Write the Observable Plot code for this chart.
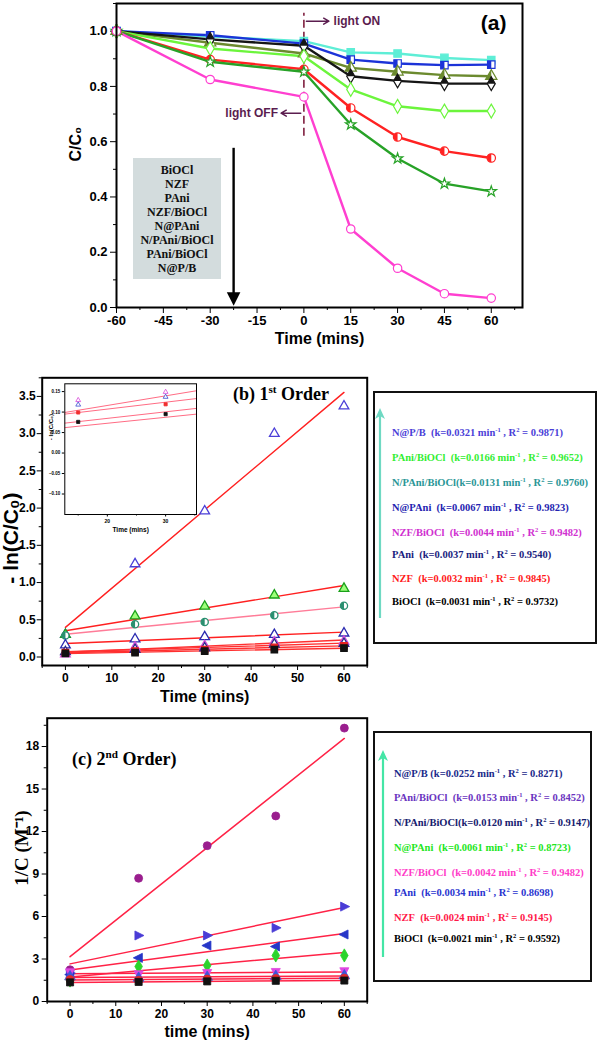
<!DOCTYPE html>
<html><head><meta charset="utf-8">
<script src="https://cdn.jsdelivr.net/npm/d3@7"></script>
<script src="https://cdn.jsdelivr.net/npm/@observablehq/plot@0.6"></script>
<style>
body{margin:0;background:#fff;}
#root{position:relative;width:600px;height:1041px;overflow:hidden;font-family:"Liberation Sans",Arial,sans-serif;}
sup{font-size:0.62em;vertical-align:super;line-height:0;}
.lg{position:absolute;white-space:nowrap;font-family:"Liberation Serif","Times New Roman",serif;font-weight:bold;line-height:14px;}
</style></head><body><div id="root"></div>
<script>
// ---------- DATA ----------
// panel (a): C/C0 vs time
const samples = ["BiOCl","NZF","PAni","NZF/BiOCl","N@PAni","N/PAni/BiOCl","PAni/BiOCl","N@P/B"];
const timeA = [-60,-30,0,15,30,45,60];
const ccBiOCl      = [1.0,0.980,0.964,0.923,0.919,0.903,0.895];
const ccNZF        = [1.0,0.985,0.955,0.897,0.883,0.877,0.879];
const ccPAni       = [1.0,0.958,0.919,0.867,0.853,0.841,0.837];
const ccNZFBiOCl   = [1.0,0.970,0.947,0.837,0.820,0.810,0.810];
const ccNPAni      = [1.0,0.937,0.909,0.789,0.728,0.711,0.711];
const ccNPAniBiOCl = [1.0,0.897,0.862,0.722,0.617,0.566,0.541];
const ccPAniBiOCl  = [1.0,0.889,0.853,0.662,0.539,0.448,0.420];
const ccNPB        = [1.0,0.825,0.762,0.284,0.142,0.050,0.034];
const colorsA = ["#5eeed6","#1c33d8","#6b8a2e","#151515","#6cf53c","#ff2222","#27a227","#ff3fd0"];
const lightSwitchTime = [0];
const lightRuleSpan = [0.62, 1.065];

// panel (b): -ln(C/C0) vs time (first order)
const kinNames = ["N@P/B","PAni/BiOCl","N/PAni/BiOCl","N@PAni","NZF/BiOCl","PAni","NZF","BiOCl"];
const timeK = [0,15,30,45,60];
const lnNPB        = [0.30,1.25,1.96,3.00,3.37];
const lnPAniBiOCl  = [0.30,0.55,0.68,0.83,0.92];
const lnNPAniBiOCl = [0.29,0.44,0.47,0.56,0.69];
const lnNPAni      = [0.16,0.24,0.27,0.30,0.32];
const lnNZFBiOCl   = [0.04,0.13,0.15,0.20,0.21];
const lnPAni       = [0.07,0.10,0.12,0.17,0.18];
const lnNZF        = [0.06,0.08,0.10,0.13,0.15];
const lnBiOCl      = [0.05,0.06,0.08,0.10,0.12];
const kFirst  = ["0.0321","0.0166","0.0131","0.0067","0.0044","0.0037","0.0032","0.0031"];
const r2First = ["0.9871","0.9652","0.9760","0.9823","0.9482","0.9540","0.9845","0.9732"];
const markerColorB = ["#4b3fd8","#1aa01a","#2a8f70","#2a2ab0","#d848d8","#24248a","#e82020","#111111"];
const fitColorB    = ["#ff2020","#ff2020","#ff7c98","#ff2020","#ff3030","#ff3030","#ff3030","#ff3030"];
const legendColorB = ["#4b3fd8","#33ee33","#2a9696","#2424b0","#d030d0","#1a237e","#ff1a1a","#000000"];

// inset of (b)
const insetTime = [15,30];
const insetNames = ["NZF/BiOCl","PAni","NZF","BiOCl"];
const insetValues = [[0.129,0.149],[0.118,0.137],[0.099,0.119],[0.076,0.095]];
const insetColors = ["#d848d8","#3a4ad0","#f03030","#111111"];
const insetFitTime = [12.7,35.3];
const insetFitStart = [0.099,0.095,0.073,0.062];
const insetFitEnd   = [0.152,0.133,0.109,0.095];

// panel (c): 1/C vs time (second order)
const invNPB        = [2.24,8.70,11.0,13.1,19.3];
const invPAniBiOCl  = [2.00,4.66,4.66,5.20,6.70];
const invNPAniBiOCl = [1.90,3.08,3.95,3.88,4.73];
const invNPAni      = [1.48,2.47,2.54,3.25,3.25];
const invNZFBiOCl   = [2.05,1.90,2.00,2.07,2.12];
const invPAni       = [1.75,1.65,1.72,1.78,1.82];
const invNZF        = [1.55,1.50,1.58,1.62,1.65];
const invBiOCl      = [1.35,1.38,1.42,1.46,1.48];
const kSecond  = ["0.0252","0.0153","0.0120","0.0061","0.0042","0.0034","0.0024","0.0021"];
const r2Second = ["0.8271","0.8452","0.9147","0.8723","0.9482","0.8698","0.9145","0.9592"];
const markerColorC = ["#9a1e8e","#4a3cd6","#2636c8","#2bd42b","#e048e0","#3a56d8","#e02828","#111111"];
const legendColorC = ["#1a2a8a","#6a35c0","#16206e","#22e622","#ff3cc8","#2a36d0","#ff1848","#000000"];
const fitColorC = "#ff2246";

// ---------- SYMBOLS ----------
const halfSquare = {draw(c,s){const h=Math.sqrt(s)/2;c.moveTo(-h,-h);c.lineTo(0,-h);c.lineTo(0,h);c.lineTo(-h,h);c.closePath();}};
const halfCircle = {draw(c,s){const r=Math.sqrt(s/Math.PI);c.moveTo(0,-r);c.arc(0,0,r,-Math.PI/2,Math.PI/2,true);c.closePath();}};
const halfTriangle = {draw(c,s){const y=-Math.sqrt(s/(Math.sqrt(3)*3));c.moveTo(0,2*y);c.lineTo(Math.sqrt(3)*y,-y);c.lineTo(0,-y);c.closePath();}};
const halfDiamond = {draw(c,s){const y=Math.sqrt(s/(2*Math.tan(Math.PI/6))),x=y*Math.tan(Math.PI/6);c.moveTo(0,-y);c.lineTo(x,0);c.lineTo(-x,0);c.closePath();}};
const triRight = {draw(c,s){const a=Math.sqrt(s)*0.75;c.moveTo(a,0);c.lineTo(-a*0.7,-a*0.85);c.lineTo(-a*0.7,a*0.85);c.closePath();}};
const triLeft  = {draw(c,s){const a=Math.sqrt(s)*0.75;c.moveTo(-a,0);c.lineTo(a*0.7,-a*0.85);c.lineTo(a*0.7,a*0.85);c.closePath();}};
const triDown  = {draw(c,s){const a=Math.sqrt(s)*0.75;c.moveTo(0,a);c.lineTo(-a*0.85,-a*0.7);c.lineTo(a*0.85,-a*0.7);c.closePath();}};

const root = document.getElementById("root");
function place(el,left,top){el.style.position="absolute";el.style.left=left+"px";el.style.top=top+"px";root.appendChild(el);return el;}
const baseStyle = {fontFamily:"'Liberation Sans', Arial, sans-serif", fontWeight:"bold", color:"#000", background:"transparent", overflow:"visible"};

// ---------- PANEL A ----------
const seriesA = [ccBiOCl,ccNZF,ccPAni,ccNZFBiOCl,ccNPAni,ccNPAniBiOCl,ccPAniBiOCl,ccNPB];
const symA  = [d3.symbolSquare,d3.symbolSquare,d3.symbolTriangle,d3.symbolDiamond,d3.symbolDiamond,d3.symbolCircle,d3.symbolStar,d3.symbolCircle];
const fillA = ["#5eeed6","#ffffff","#ffffff","#ffffff","#ffffff","#ffffff","#ffffff","#ffffff"];
const halfA = [null,halfSquare,halfTriangle,halfDiamond,null,halfCircle,null,null];
const rA    = [4.2,4.2,4.2,4.2,4.2,4.2,3.3,4.2];
const marksA = [];
seriesA.forEach((vals,i)=>{
  const rows = timeA.map((t,j)=>({t,v:vals[j]}));
  marksA.push(Plot.line(rows,{x:"t",y:"v",stroke:colorsA[i],strokeWidth:2.4}));
});
seriesA.forEach((vals,i)=>{
  const rows = timeA.map((t,j)=>({t,v:vals[j]}));
  marksA.push(Plot.dot(rows,{x:"t",y:"v",symbol:symA[i],r:rA[i],fill:fillA[i],stroke:colorsA[i],strokeWidth:1.2}));
  if(halfA[i]) marksA.push(Plot.dot(rows,{x:"t",y:"v",symbol:halfA[i],r:rA[i],fill:colorsA[i]}));
});
const plotA = Plot.plot({
  width:600,height:350,marginLeft:116,marginRight:78,marginTop:3,marginBottom:43,
  x:{domain:[-60,70]}, y:{domain:[0,1.1]},
  style:{...baseStyle,fontSize:"13px"},
  marks:[
    Plot.axisX({ticks:d3.range(-60,61,15),tickSize:6,tickPadding:2,tickFormat:d=>String(d),label:null,fontSize:13}),
    Plot.axisX({ticks:d3.range(-52.5,70,15),tickSize:3,tickFormat:()=>"",label:null}),
    Plot.axisY({ticks:d3.range(0,1.01,0.2),tickSize:6,tickPadding:3,tickFormat:d3.format(".1f"),label:null,fontSize:13}),
    Plot.axisY({ticks:d3.range(0.1,1.11,0.2),tickSize:3,tickFormat:()=>"",label:null}),
    Plot.ruleX(lightSwitchTime,{y1:lightRuleSpan[0],y2:lightRuleSpan[1],stroke:"#7f1f3f",strokeWidth:1.6,strokeDasharray:"8,4"}),
    Plot.arrow([{a:0.8,b:8}],{x1:"a",x2:"b",y1:1.036,y2:1.036,stroke:"#5b1d4f",strokeWidth:1.5,headLength:6}),
    Plot.text(["light ON"],{x:9.5,y:1.036,textAnchor:"start",fill:"#5b1d4f",fontSize:12}),
    Plot.arrow([{a:-1,b:-7.3}],{x1:"a",x2:"b",y1:0.703,y2:0.703,stroke:"#5b1d4f",strokeWidth:1.5,headLength:6}),
    Plot.text(["light OFF"],{x:-8.3,y:0.703,textAnchor:"end",fill:"#5b1d4f",fontSize:12}),
    Plot.ruleX([-22.5],{y1:0.05,y2:0.576,stroke:"#000",strokeWidth:2.4}),
    Plot.dot([-22.5],{x:d=>d,y:0.035,symbol:triDown,r:6,fill:"#000"}),
    ...marksA,
    Plot.frame({stroke:"#000",strokeWidth:2}),
    Plot.text(["(a)"],{frameAnchor:"top-right",lineAnchor:"middle",dx:-16,dy:20,textAnchor:"end",fontSize:21}),
    Plot.text(["Time (mins)"],{frameAnchor:"bottom",lineAnchor:"middle",dy:31,fontSize:16}),
    Plot.text(["C/C\u2080"],{frameAnchor:"left",lineAnchor:"middle",rotate:-90,dx:-41,dy:6,fontSize:16})
  ]
});
place(plotA,0,0);

// legend box in (a)
const boxA = document.createElement("div");
boxA.style.cssText="width:88px;height:121px;background:#d3dcdd;box-sizing:border-box;padding-top:5px;text-align:center;font:bold 12px/14px 'Liberation Serif',serif;color:#111;";
boxA.innerHTML = samples.join("<br>");
place(boxA,133,158);

// ---------- PANEL B ----------
const seriesB = [lnNPB,lnPAniBiOCl,lnNPAniBiOCl,lnNPAni,lnNZFBiOCl,lnPAni,lnNZF,lnBiOCl];
const symB  = [d3.symbolTriangle,d3.symbolTriangle,d3.symbolCircle,d3.symbolTriangle,d3.symbolTriangle,d3.symbolTriangle,d3.symbolSquare,d3.symbolSquare];
const fillB = ["#ffffff","#9dff7a","#ffffff","#ffffff","#ffffff","#ffffff","#e82020","#111111"];
const halfB = [null,null,halfCircle,null,null,null,null,null];
const fitsB=[],dotsB=[];
seriesB.forEach((vals,i)=>{
  const rows = timeK.map((t,j)=>({t,v:vals[j]}));
  fitsB.push(Plot.linearRegressionY(rows,{x:"t",y:"v",stroke:fitColorB[i],strokeWidth:1.4,ci:0}));
  dotsB.push(Plot.dot(rows,{x:"t",y:"v",symbol:symB[i],r:3.6,fill:fillB[i],stroke:markerColorB[i],strokeWidth:1.3}));
  if(halfB[i]) dotsB.push(Plot.dot(rows,{x:"t",y:"v",symbol:halfB[i],r:3.6,fill:markerColorB[i]}));
});
const plotB = Plot.plot({
  width:400,height:360,marginLeft:41.7,marginRight:33.3,marginTop:27.3,marginBottom:45,
  x:{domain:[-5,65]}, y:{domain:[-0.114,3.75]},
  style:{...baseStyle,fontSize:"12px"},
  marks:[
    Plot.axisX({ticks:d3.range(0,61,10),tickSize:5,tickPadding:3,label:null,fontSize:12}),
    Plot.axisX({ticks:d3.range(-5,66,10),tickSize:3,tickFormat:()=>"",label:null}),
    Plot.axisY({ticks:d3.range(0,3.51,0.5),tickSize:5,tickPadding:1.5,tickFormat:d3.format(".1f"),label:null,fontSize:12}),
    Plot.axisY({ticks:d3.range(0.25,3.76,0.5),tickSize:3,tickFormat:()=>"",label:null}),
    ...fitsB, ...dotsB,
    Plot.frame({stroke:"#000",strokeWidth:2}),
    Plot.text(["Time (mins)"],{frameAnchor:"bottom",lineAnchor:"middle",dy:31,fontSize:16}),
    Plot.text(["- ln(C/C\u2080)"],{frameAnchor:"left",lineAnchor:"middle",rotate:-90,dx:-31,dy:62,fontSize:21})
  ]
});
place(plotB,0,350);

// inset
const insetDots=[];
insetValues.forEach((vals,i)=>{
  const rows = insetTime.map((t,j)=>({t,v:vals[j]}));
  insetDots.push(Plot.dot(rows,{x:"t",y:"v",symbol:i<2?d3.symbolTriangle:d3.symbolSquare,r:1.8,fill:i<2?"#fff":insetColors[i],stroke:insetColors[i],strokeWidth:0.8}));
});
const insetFits = insetFitStart.map((s,i)=>({x1:insetFitTime[0],x2:insetFitTime[1],y1:s,y2:insetFitEnd[i]}));
const plotInset = Plot.plot({
  width:180,height:165,marginLeft:34.3,marginRight:14,marginTop:8.3,marginBottom:26,
  x:{domain:[12.7,35.3]}, y:{domain:[-0.15,0.169]},
  style:{...baseStyle,fontSize:"5px"},
  marks:[
    Plot.frame({fill:"#fff",stroke:"none"}),
    Plot.axisX({ticks:[20,30],tickSize:2.5,tickPadding:2,label:null,fontSize:5}),
    Plot.axisX({ticks:[15,25,35],tickSize:1.5,tickFormat:()=>"",label:null}),
    Plot.axisY({ticks:[-0.10,-0.05,0,0.05,0.10,0.15],tickSize:2.5,tickPadding:2,tickFormat:d3.format(".2f"),label:null,fontSize:4.5}),
    Plot.link(insetFits,{x1:"x1",x2:"x2",y1:"y1",y2:"y2",stroke:"#ff6c84",strokeWidth:1}),
    ...insetDots,
    Plot.frame({stroke:"#000",strokeWidth:1}),
    Plot.text(["Time (mins)"],{frameAnchor:"bottom",lineAnchor:"middle",dy:15,fontSize:6.5}),
    Plot.text(["- ln(C/C\u2080)"],{frameAnchor:"left",lineAnchor:"middle",rotate:-90,dx:-14,dy:-9,fontSize:6})
  ]
});
place(plotInset,30,375);

// ---------- PANEL C ----------
const seriesC = [invNPB,invPAniBiOCl,invNPAniBiOCl,invNPAni,invNZFBiOCl,invPAni,invNZF,invBiOCl];
const symC = [d3.symbolCircle,triRight,triLeft,d3.symbolDiamond,triDown,d3.symbolTriangle,d3.symbolCircle,d3.symbolSquare];
const fitsC=[],dotsC=[];
seriesC.forEach((vals,i)=>{
  const rows = timeK.map((t,j)=>({t,v:vals[j]}));
  fitsC.push(Plot.linearRegressionY(rows,{x:"t",y:"v",stroke:fitColorC,strokeWidth:1.5,ci:0}));
  dotsC.push(Plot.dot(rows,{x:"t",y:"v",symbol:symC[i],r:4,fill:markerColorC[i],stroke:markerColorC[i],strokeWidth:0.8}));
});
const plotC = Plot.plot({
  width:400,height:331,marginLeft:46.7,marginRight:33.3,marginTop:7.7,marginBottom:40,
  x:{domain:[-5,65]}, y:{domain:[0,20]},
  style:{...baseStyle,fontSize:"12px"},
  marks:[
    Plot.axisX({ticks:d3.range(0,61,10),tickSize:5,tickPadding:3,label:null,fontSize:12}),
    Plot.axisX({ticks:d3.range(-5,66,10),tickSize:3,tickFormat:()=>"",label:null}),
    Plot.axisY({ticks:d3.range(0,19,3),tickSize:5,tickPadding:3,label:null,fontSize:12}),
    Plot.axisY({ticks:d3.range(1.5,20,3),tickSize:3,tickFormat:()=>"",label:null}),
    ...fitsC, ...dotsC,
    Plot.frame({stroke:"#000",strokeWidth:2}),
    Plot.text(["time (mins)"],{frameAnchor:"bottom",lineAnchor:"middle",dy:30,fontSize:16}),
    Plot.text(["1/C (M\u207B\u00B9)"],{frameAnchor:"left",lineAnchor:"middle",rotate:-90,dx:-25,dy:26,fontSize:19,fontFamily:"'Liberation Serif',serif"})
  ]
});
place(plotC,0,710);

// titles
const tB=document.createElement("div");tB.className="lg";tB.style.fontSize="18px";tB.style.lineHeight="20px";tB.innerHTML="(b) 1<sup>st</sup> Order";place(tB,233,384);
const tC=document.createElement("div");tC.className="lg";tC.style.fontSize="18px";tC.style.lineHeight="20px";tC.innerHTML="(c) 2<sup>nd</sup> Order)";place(tC,72,749);

// ---------- LEGENDS ----------
function legend(cfg){
  const box=document.createElement("div");
  box.style.cssText=`width:${cfg.width}px;height:${cfg.height}px;border:2px solid #111;box-sizing:border-box;background:#fff;`;
  place(box,cfg.left,cfg.top);
  const ns="http://www.w3.org/2000/svg";
  const svg=document.createElementNS(ns,"svg");
  svg.setAttribute("width",20);svg.setAttribute("height",cfg.arrowBottom-cfg.arrowTop+2);
  svg.style.position="absolute";svg.style.left=(cfg.arrowX-10)+"px";svg.style.top=cfg.arrowTop+"px";
  svg.innerHTML=`<line x1="10" y1="8" x2="10" y2="${cfg.arrowBottom-cfg.arrowTop}" stroke="${cfg.arrowColor}" stroke-width="2.2"/><path d="M10,0 L5,11 L10,8 L15,11 Z" fill="${cfg.arrowColor}"/>`;
  root.appendChild(svg);
  cfg.names.forEach((n,i)=>{
    const d=document.createElement("div");d.className="lg";
    d.style.fontSize=cfg.fontSize+"px";d.style.color=cfg.colors[i];
    d.innerHTML=`${n}${cfg.gaps[i]}(k=${cfg.ks[i]} min<sup>-1</sup> , R<sup>2</sup> = ${cfg.r2s[i]})`;
    place(d,cfg.textLeft,cfg.ys[i]-7);
  });
}
legend({left:373,top:391,width:224,height:253,arrowX:380,arrowTop:408,arrowBottom:618,arrowColor:"#6fd9c3",
  names:kinNames,ks:kFirst,r2s:r2First,colors:legendColorB,fontSize:10.5,textLeft:392,
  gaps:["&nbsp; ","&nbsp; ","","&nbsp; ","&nbsp; ","&nbsp; ","&nbsp; ","&nbsp; "],
  ys:[433,458,483,508,533,555,579,602]});
legend({left:373,top:731,width:219,height:251,arrowX:383,arrowTop:750,arrowBottom:957,arrowColor:"#44e6a6",
  names:kinNames,ks:kSecond,r2s:r2Second,colors:legendColorC,fontSize:10.5,textLeft:394,
  gaps:[" ","&nbsp; ","","&nbsp; ","&nbsp; ","&nbsp; ","&nbsp; ","&nbsp; "],
  ys:[774,798,823,848,873,893,918,939]});
</script></body></html>
